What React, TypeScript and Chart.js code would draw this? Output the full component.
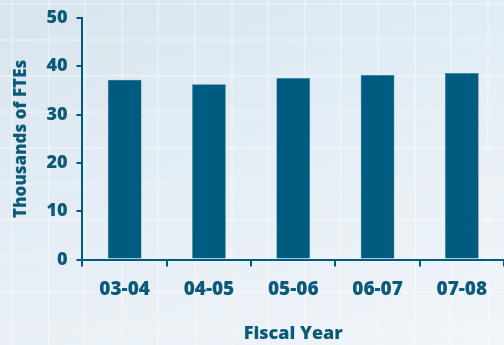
import React, { useEffect, useRef } from "react";
import { Chart, registerables } from "chart.js";

Chart.register(...registerables);

const categories = ["03-04", "04-05", "05-06", "06-07", "07-08"];
const fteValues = [37.2, 36.3, 37.6, 38.2, 38.6];
const yMin = 0;
const yMax = 50;
const yStep = 10;

const INK = "#005b80";
const TEXT = "#0b5a7a";
const FONT = "'Open Sans', 'DejaVu Sans', sans-serif";

export default function App() {
  const ref = useRef<HTMLCanvasElement | null>(null);

  useEffect(() => {
    document.body.style.margin = "0";
    if (!ref.current) return;
    const chart = new Chart(ref.current, {
      type: "bar",
      data: {
        labels: categories,
        datasets: [
          {
            data: fteValues,
            backgroundColor: INK,
            borderColor: "#2f7a98",
            borderWidth: 0.5,
            categoryPercentage: 0.4,
            barPercentage: 1,
          },
        ],
      },
      options: {
        responsive: false,
        animation: false,
        layout: { padding: { top: 16, right: 0, bottom: 0, left: 0 } },
        plugins: { legend: { display: false }, tooltip: { enabled: false } },
        scales: {
          x: {
            grid: {
              offset: true,
              drawOnChartArea: false,
              drawTicks: true,
              tickLength: 7,
              color: INK,
              lineWidth: 2,
            },
            border: { display: true, color: INK, width: 2 },
            ticks: {
              color: TEXT,
              padding: 12,
              font: { family: FONT, size: 19, weight: "800" },
              maxRotation: 0,
            },
            title: {
              display: true,
              text: "Fiscal Year",
              color: TEXT,
              font: { family: FONT, size: 18, weight: "800" },
              padding: { top: 10, bottom: 0 },
            },
          },
          y: {
            min: yMin,
            max: yMax,
            grid: {
              drawOnChartArea: false,
              drawTicks: true,
              tickLength: 6,
              color: INK,
              lineWidth: 2,
            },
            border: { display: true, color: INK, width: 2 },
            ticks: {
              stepSize: yStep,
              color: TEXT,
              padding: 9,
              font: { family: FONT, size: 18, weight: "800", lineHeight: 1 },
            },
            title: {
              display: true,
              text: "Thousands of FTEs",
              color: TEXT,
              font: { family: FONT, size: 17, weight: "800" },
              padding: { top: 11, bottom: 6 },
            },
          },
        },
      },
    });
    return () => chart.destroy();
  }, []);

  return (
    <div
      style={{
        position: "absolute",
        left: 0,
        top: 0,
        width: 504,
        height: 345,
        overflow: "hidden",
        backgroundColor: "#e4edf4",
        backgroundImage:
          "repeating-linear-gradient(90deg, rgba(255,255,255,0) 0px, rgba(255,255,255,0) 11px, rgba(255,255,255,0.3) 11px, rgba(255,255,255,0.3) 13px, rgba(255,255,255,0) 13px, rgba(255,255,255,0) 36.6px)," +
          "repeating-linear-gradient(180deg, rgba(255,255,255,0) 0px, rgba(255,255,255,0) 3px, rgba(255,255,255,0.3) 3px, rgba(255,255,255,0.3) 5px, rgba(255,255,255,0) 5px, rgba(255,255,255,0) 36px)," +
          "linear-gradient(160deg, #d8e4ee 0%, #e5eef5 50%, #f0f5f9 100%)",
      }}
    >
      <canvas ref={ref} width={504} height={345} />
    </div>
  );
}
